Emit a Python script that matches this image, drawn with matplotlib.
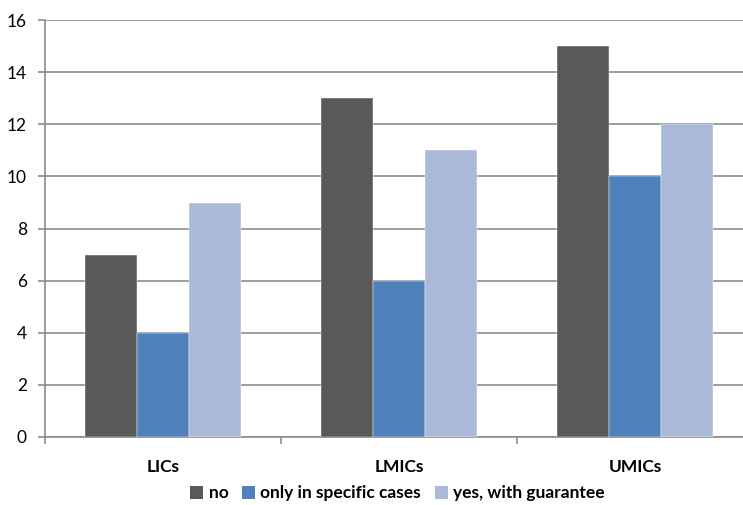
import numpy as np
import matplotlib.pyplot as plt
from matplotlib.patches import Patch

categories = ['LICs', 'LMICs', 'UMICs']
series_names = ['no', 'only in specific cases', 'yes, with guarantee']
no_vals = [7, 13, 15]
specific_vals = [4, 6, 10]
guarantee_vals = [9, 11, 12]

colors = ['#595959', '#4F81BD', '#AAB9D8']
grid_col = '#8C8C8C'

plt.rcParams['font.family'] = ['Lato', 'DejaVu Sans']

fig = plt.figure(figsize=(7.43, 5.05), dpi=100)
ax = fig.add_axes([0.0606, 0.1347, 0.9529, 0.8253])

x = np.arange(len(categories))
w = 0.22
for i, vals in enumerate([no_vals, specific_vals, guarantee_vals]):
    ax.bar(x + (i - 1) * w, vals, width=w, color=colors[i], zorder=3,
           edgecolor='white', linewidth=0.3)

ax.set_xlim(-0.5, 2.5)
ax.set_ylim(0, 16)
ax.set_yticks(range(0, 17, 2))
ax.yaxis.grid(True, color=grid_col, linewidth=1.2, zorder=0)
ax.tick_params(axis='y', length=5, width=1.2, color=grid_col, labelsize=12.5, pad=8)

ax.set_xticks(x)
ax.set_xticklabels(categories, fontweight='bold', fontsize=12.5)
ax.set_xticks([-0.5, 0.5, 1.5, 2.5], minor=True)
ax.tick_params(axis='x', which='major', length=0, pad=16)
ax.tick_params(axis='x', which='minor', length=5, width=1.2, color=grid_col)

for side in ['top', 'right']:
    ax.spines[side].set_visible(False)
for side in ['left', 'bottom']:
    ax.spines[side].set_color(grid_col)
    ax.spines[side].set_linewidth(1.2)

handles = [Patch(facecolor=c, edgecolor='none') for c in colors]
fig.legend(handles, series_names, loc='center', bbox_to_anchor=(0.535, 0.023),
           ncol=3, frameon=False, prop={'weight': 'bold', 'size': 12.5},
           handlelength=0.75, handleheight=0.75, handletextpad=0.3,
           columnspacing=0.8)

fig.savefig('out.png', dpi=100)
